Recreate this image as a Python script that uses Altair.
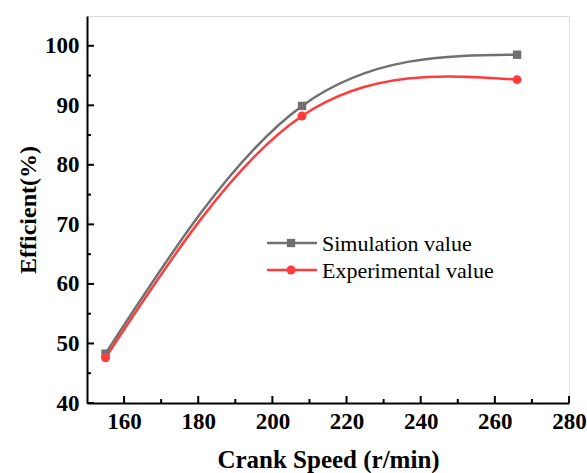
import altair as alt
import pandas as pd

series = ["Simulation value", "Experimental value"]
speed = [155, 208, 266]
sim_vals = [48.3, 89.9, 98.5]
exp_vals = [47.6, 88.2, 94.3]

x_major = [160, 180, 200, 220, 240, 260, 280]
x_minor = [170, 190, 210, 230, 250, 270]
y_major = [40, 50, 60, 70, 80, 90, 100]
y_minor = [45, 55, 65, 75, 85, 95]

W, H = 482, 387
FONT = "Liberation Serif"
GRAY = "#707070"
RED = "#ff3b3b"

sim_df = pd.DataFrame({"speed": speed, "eff": sim_vals})
exp_df = pd.DataFrame({"speed": speed, "eff": exp_vals})

xs = alt.Scale(domain=[150, 280], nice=False, zero=False)
ys = alt.Scale(domain=[40, 105], nice=False, zero=False)
x_axis = alt.Axis(values=x_major, ticks=False, grid=False, title="Crank Speed (r/min)",
                  labelFont=FONT, labelFontSize=23, labelFontWeight="bold", labelColor="black",
                  titleFont=FONT, titleFontSize=25, titleFontWeight="bold", titleColor="black",
                  labelPadding=7, titlePadding=14, domainColor="black", domainWidth=2,
                  labelFlush=False)
y_axis = alt.Axis(values=y_major, ticks=False, grid=False, title="Efficient(%)",
                  labelFont=FONT, labelFontSize=23, labelFontWeight="bold", labelColor="black",
                  titleFont=FONT, titleFontSize=24, titleFontWeight="bold", titleColor="black",
                  labelPadding=8, titlePadding=4, domainColor="black", domainWidth=2,
                  labelFlush=False)

X = lambda f: alt.X(f, type="quantitative", scale=xs, axis=x_axis)
Y = lambda f: alt.Y(f, type="quantitative", scale=ys, axis=y_axis)

sim_line = alt.Chart(sim_df).mark_line(interpolate="natural", color=GRAY, strokeWidth=2.5).encode(x=X("speed"), y=Y("eff"))
exp_line = alt.Chart(exp_df).mark_line(interpolate="natural", color=RED, strokeWidth=2.5).encode(x=X("speed"), y=Y("eff"))
sim_pts = alt.Chart(sim_df).mark_point(shape="square", filled=True, color=GRAY, size=70, opacity=1).encode(x=X("speed"), y=Y("eff"))
exp_pts = alt.Chart(exp_df).mark_point(shape="circle", filled=True, color=RED, size=80, opacity=1).encode(x=X("speed"), y=Y("eff"))

def xticks(vals, ln):
    return alt.Chart(pd.DataFrame({"v": vals})).mark_rule(color="black", strokeWidth=2).encode(
        x=X("v"), y=alt.value(H), y2=alt.value(H - ln))

def yticks(vals, ln):
    return alt.Chart(pd.DataFrame({"v": vals})).mark_rule(color="black", strokeWidth=2).encode(
        y=Y("v"), x=alt.value(0), x2=alt.value(ln))

leg_df = pd.DataFrame({"name": series})
leg_layers = []
for i, (name, col, shp, sz) in enumerate([(series[0], GRAY, "square", 70), (series[1], RED, "circle", 80)]):
    yy = 227 + 27 * i
    d = leg_df[leg_df["name"] == name]
    leg_layers.append(alt.Chart(d).mark_rule(color=col, strokeWidth=2.5).encode(
        x=alt.value(180), x2=alt.value(230), y=alt.value(yy)))
    leg_layers.append(alt.Chart(d).mark_point(shape=shp, filled=True, color=col, size=sz, opacity=1).encode(
        x=alt.value(204), y=alt.value(yy)))
    leg_layers.append(alt.Chart(d).mark_text(align="left", baseline="middle", font=FONT, fontSize=22, color="black").encode(
        x=alt.value(235), y=alt.value(yy + 1), text="name:N"))

chart = alt.layer(
    xticks(x_major, 7), xticks(x_minor, 4), yticks(y_major, 7), yticks(y_minor, 4),
    sim_line, exp_line, sim_pts, exp_pts, *leg_layers
).properties(
    width=W, height=H,
    autosize=alt.AutoSizeParams(type="none"),
    padding={"left": 87, "top": 16, "right": 18, "bottom": 70},
).configure_view(stroke="black", strokeWidth=2).configure(background="white")

chart.save("out.html", embed_options={"renderer": "svg", "actions": False})
